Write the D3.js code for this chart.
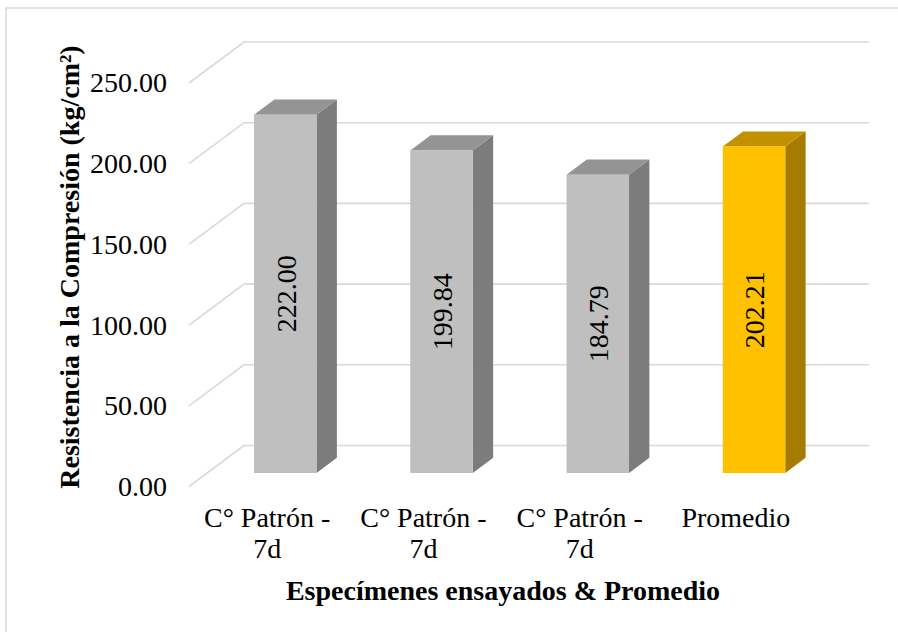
<!DOCTYPE html>
<html>
<head>
<meta charset="utf-8">
<script src="https://cdn.jsdelivr.net/npm/d3@7"></script>
<style>
  html, body { margin: 0; padding: 0; background: #fff; }
  svg { display: block; }
</style>
</head>
<body>
<svg id="chart" width="898" height="632"></svg>
<script>
// Data
const categories = ["C° Patrón - 7d", "C° Patrón - 7d", "C° Patrón - 7d", "Promedio"];
const categoryLines = [["C° Patrón -", "7d"], ["C° Patrón -", "7d"], ["C° Patrón -", "7d"], ["Promedio"]];
const values = [222.00, 199.84, 184.79, 202.21];
const yTicks = [0, 50, 100, 150, 200, 250];
const yTitle = "Resistencia a la Compresión (kg/cm²)";
const xTitle = "Especímenes ensayados & Promedio";

// Face colours: [front, side, top]
const greyFaces = ["#bfbfbf", "#7c7c7c", "#949494"];
const goldFaces = ["#ffc000", "#a67c00", "#c29100"];
const faceColours = [greyFaces, greyFaces, greyFaces, goldFaces];

const SERIF = "Liberation Serif";
const FS = 28;

const svg = d3.select("#chart").attr("font-family", SERIF);

// Outer chart frame
svg.append("rect")
  .attr("x", 6).attr("y", 8).attr("width", 900).attr("height", 630)
  .attr("fill", "#fff").attr("stroke", "#d9d9d9").attr("stroke-width", 1.5);

// Back wall plane and depth vector (back -> front)
const wallLeft = 244, wallRight = 869;
const depth = { dx: -55, dy: 41 };
const proj = (px, py, t) => [px + depth.dx * t, py + depth.dy * t];

const x = d3.scaleBand().domain(d3.range(categories.length)).range([wallLeft, wallRight]).padding(0);
const y = d3.scaleLinear().domain([0, 250]).range([445.5, 42]);

// Gridlines: back-wall horizontal + side-wall diagonal
const grid = svg.append("g").attr("fill", "none").attr("stroke", "#d9d9d9").attr("stroke-width", 1.6);
yTicks.forEach(v => {
  const yy = y(v);
  const f = proj(wallLeft, yy, 1);
  grid.append("path").attr("d", `M${f[0]},${f[1]}L${wallLeft},${yy}L${wallRight},${yy}`);
});

// Y tick labels on the front edge
const yAxis = svg.append("g")
  .attr("transform", `translate(${wallLeft + depth.dx},${depth.dy})`)
  .call(d3.axisLeft(y).tickValues(yTicks).tickFormat(d3.format(".2f")).tickSize(0).tickPadding(22));
yAxis.select(".domain").remove();
yAxis.attr("font-family", SERIF).attr("font-size", FS);
yAxis.selectAll("text").attr("fill", "#000");

// 3D columns
const tFront = 0.67, tBack = 0.30;
const barFrac = 0.4;
const bars = svg.append("g").attr("font-family", SERIF).attr("font-size", FS);
const poly = pts => "M" + pts.map(p => p.join(",")).join("L") + "Z";
values.forEach((v, i) => {
  const cx = x(i) + x.bandwidth() / 2;
  const w = x.bandwidth() * barFrac;
  const x0 = cx - w / 2, x1 = cx + w / 2;
  const yb = y(0), yt = y(v);
  const [fr, sd, tp] = faceColours[i];
  const F = (px, py) => proj(px, py, tFront);
  const B = (px, py) => proj(px, py, tBack);
  // side face
  bars.append("path").attr("d", poly([F(x1, yt), B(x1, yt), B(x1, yb), F(x1, yb)])).attr("fill", sd);
  // top face
  bars.append("path").attr("d", poly([F(x0, yt), B(x0, yt), B(x1, yt), F(x1, yt)])).attr("fill", tp);
  // front face
  bars.append("path").attr("d", poly([F(x0, yt), F(x1, yt), F(x1, yb), F(x0, yb)])).attr("fill", fr);
  // value label, rotated, centred on the front face
  const c = F(cx, (yt + yb) / 2);
  bars.append("text")
    .attr("transform", `translate(${c[0] + 1},${c[1]}) rotate(-90)`)
    .attr("text-anchor", "middle").attr("dy", "0.33em")
    .attr("fill", "#000")
    .text(d3.format(".2f")(v));
});

// Category labels along the front floor edge
const catG = svg.append("g").attr("font-family", SERIF).attr("font-size", FS);
categoryLines.forEach((lines, i) => {
  const p = proj(x(i) + x.bandwidth() / 2, y(0), 1);
  const t = catG.append("text").attr("text-anchor", "middle").attr("fill", "#000");
  lines.forEach((ln, k) => {
    t.append("tspan").attr("x", p[0]).attr("y", 527 + k * 31).text(ln);
  });
});

// Axis titles
svg.append("text")
  .attr("transform", "translate(79,267) rotate(-90)")
  .attr("text-anchor", "middle").attr("fill", "#000")
  .attr("font-size", 28).attr("font-weight", "bold")
  .text(yTitle);

svg.append("text")
  .attr("x", 503).attr("y", 600)
  .attr("text-anchor", "middle").attr("fill", "#000")
  .attr("font-size", 28).attr("font-weight", "bold")
  .text(xTitle);
</script>
</body>
</html>
